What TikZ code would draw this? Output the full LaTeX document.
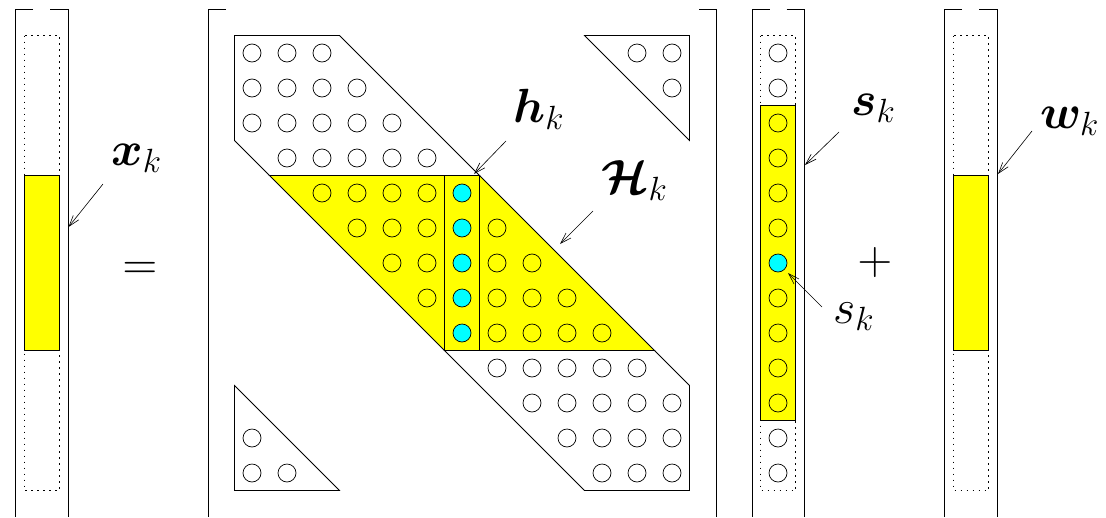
\RequirePackage{fix-cm}
\documentclass[tikz,border=0pt]{standalone}
\usepackage{amsmath,bm}
\usetikzlibrary{arrows.meta}

\definecolor{bandyellow}{RGB}{255,255,0}
\definecolor{diagcyan}{RGB}{0,255,255}

\tikzset{
  frame/.style={line width=0.8pt},
  poly/.style={draw, line width=0.8pt, line join=miter},
  dotbox/.style={draw, line width=0.9pt, dash pattern=on 1.2pt off 4.8pt},
  circ/.style={draw, line width=0.7pt},
  circy/.style={draw, line width=0.7pt, fill=bandyellow},
  circc/.style={draw, line width=0.7pt, fill=diagcyan},
  pointer/.style={line width=0.6pt, -{Straight Barb[length=11pt,width=7pt,line width=0.6pt]}},
  lbl/.style={inner sep=0pt, anchor=base west, font=\fontsize{48}{58}\selectfont},
  opsym/.style={inner sep=0pt, font=\fontsize{48}{58}\selectfont}
}

\begin{document}
\begin{tikzpicture}[x=1pt,y=-1pt]
\useasboundingbox (0,0) rectangle (1106,517);

% ---------- vector x_k ----------
\draw[frame] (33,9.5) -- (15.5,9.5) -- (15.5,517);
\draw[frame] (50,9.5) -- (68,9.5) -- (68,517);
\draw[dotbox] (24.5,35.5) rectangle (59.5,490.5);
\draw[poly, fill=bandyellow] (24.5,175.5) rectangle (59.5,350.5);

% ---------- matrix H ----------
\draw[frame] (226,9.5) -- (208,9.5) -- (208,517);
\draw[frame] (699,9.5) -- (716,9.5) -- (716,517);

% upper band part and corner triangles
\draw[poly] (234.5,35.5) -- (339.5,35.5) -- (479.5,175.5) -- (269.5,175.5) -- (234.5,140.5) -- cycle;
\draw[poly] (444.5,350.5) -- (654.5,350.5) -- (689.5,385.5) -- (689.5,490.5) -- (584.5,490.5) -- cycle;
\draw[poly] (584.5,35.5) -- (689.5,35.5) -- (689.5,140.5) -- cycle;
\draw[poly] (234.5,385.5) -- (234.5,490.5) -- (339.5,490.5) -- cycle;

% highlighted block rows H_k
\draw[poly, fill=bandyellow] (269.5,175.5) -- (479.5,175.5) -- (654.5,350.5) -- (444.5,350.5) -- cycle;
\draw[poly] (444.5,175.5) -- (444.5,350.5);
\draw[poly] (479.5,175.5) -- (479.5,350.5);

% matrix entries
\foreach \i/\js in {0/{0,1,2,11,12}, 1/{0,1,2,3,12}, 2/{0,1,2,3,4}, 3/{1,2,3,4,5},
                    9/{7,8,9,10,11}, 10/{8,9,10,11,12}, 11/{0,9,10,11,12}, 12/{0,1,10,11,12}}
  \foreach \j in \js
    \draw[circ] ({252+35*\j},{53+35*\i}) circle[radius=9];
\foreach \i/\js in {4/{2,3,4,5}, 5/{3,4,5,7}, 6/{4,5,7,8}, 7/{5,7,8,9}, 8/{7,8,9,10}}
  \foreach \j in \js
    \draw[circy] ({252+35*\j},{53+35*\i}) circle[radius=9];
\foreach \i in {4,...,8}
  \draw[circc] (462,{53+35*\i}) circle[radius=9];

% ---------- vector s_k ----------
\draw[frame] (769.5,9.5) -- (752,9.5) -- (752,517);
\draw[frame] (786.5,9.5) -- (804,9.5) -- (804,517);
\draw[dotbox] (760.5,35.5) rectangle (795.5,490.5);
\draw[poly, fill=bandyellow] (760.5,105.5) rectangle (795.5,420.5);
\foreach \i in {0,1,11,12}
  \draw[circ] (778,{53+35*\i}) circle[radius=9];
\foreach \i in {2,3,4,5,7,8,9,10}
  \draw[circy] (778,{53+35*\i}) circle[radius=9];
\draw[circc] (778,263) circle[radius=9];

% ---------- vector w_k ----------
\draw[frame] (962,9.5) -- (944.5,9.5) -- (944.5,517);
\draw[frame] (979,9.5) -- (997,9.5) -- (997,517);
\draw[dotbox] (953.5,35.5) rectangle (988.5,490.5);
\draw[poly, fill=bandyellow] (953.5,175.5) rectangle (988.5,350.5);

% ---------- operators ----------
\node[opsym] (eq) at (140,271) {$=$};
\node[opsym] (plus) at (875,262) {$+$};

% ---------- labels ----------
\node[lbl] (xl) at (111,165) {$\boldsymbol{x}_k$};
\node[lbl] (hl) at (513,122) {$\boldsymbol{h}_k$};
\node[lbl] (Hl) at (601,193) {$\boldsymbol{\mathcal{H}}_k$};
\node[lbl] (sl) at (851,115) {$\boldsymbol{s}_k$};
\node[lbl] (wl) at (1040,128) {$\boldsymbol{w}_k$};
\node[lbl] (el) at (833,323) {$s_k$};

% ---------- pointer arrows ----------
\coordinate (xs) at (103,184);  \coordinate (xt) at (68.5,227);
\coordinate (hs) at (506,141);  \coordinate (ht) at (474,174);
\coordinate (Hs) at (593,211);  \coordinate (Ht) at (560,244);
\coordinate (ss) at (839,132);  \coordinate (st) at (805,165);
\coordinate (ws) at (1032,131); \coordinate (wt) at (998,174);
\coordinate (es) at (822,307);  \coordinate (et) at (788,273);
\draw[pointer] (xs) -- (xt);
\draw[pointer] (hs) -- (ht);
\draw[pointer] (Hs) -- (Ht);
\draw[pointer] (ss) -- (st);
\draw[pointer] (ws) -- (wt);
\draw[pointer] (es) -- (et);
\end{tikzpicture}
\end{document}
